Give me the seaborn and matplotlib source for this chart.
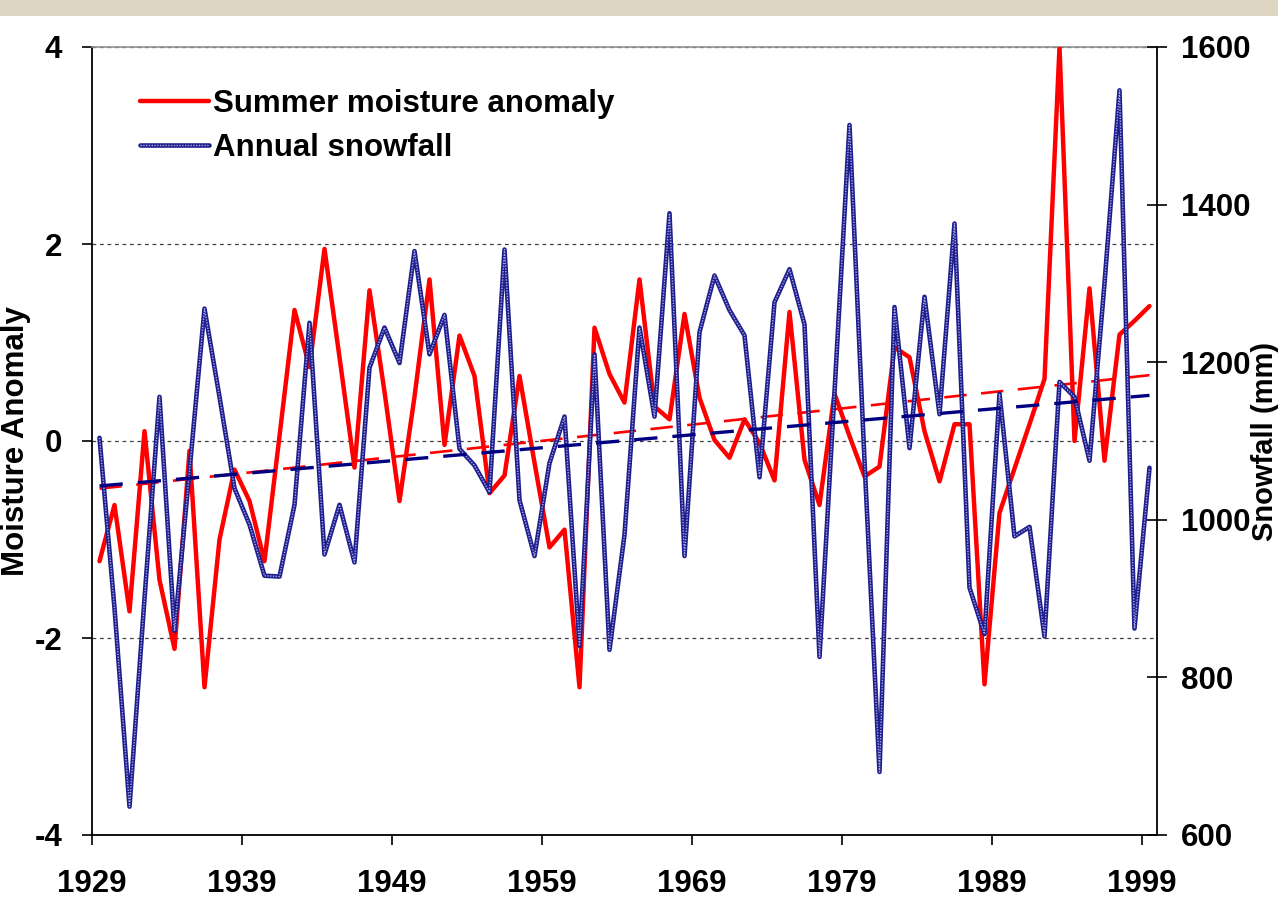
import numpy as np
import pandas as pd
import matplotlib
matplotlib.use("Agg")
import matplotlib.pyplot as plt
import seaborn as sns
from matplotlib.patches import Rectangle

# ---------------- data ----------------
years = list(range(1929, 2000))
moisture = [
    -1.22, -0.65, -1.73, 0.10, -1.41, -2.11, -0.10, -2.50, -1.00, -0.29,
    -0.61, -1.22, 0.05, 1.33, 0.75, 1.95, 0.85, -0.27, 1.53, 0.50,
    -0.61, 0.45, 1.64, -0.04, 1.07, 0.66, -0.53, -0.35, 0.66, -0.22,
    -1.08, -0.90, -2.50, 1.15, 0.68, 0.39, 1.64, 0.35, 0.22, 1.29,
    0.44, 0.01, -0.17, 0.22, -0.02, -0.40, 1.31, -0.19, -0.65, 0.48,
    0.05, -0.36, -0.26, 0.95, 0.85, 0.10, -0.41, 0.17, 0.17, -2.47,
    -0.73, -0.28, 0.17, 0.63, 4.00, 0.00, 1.55, -0.20, 1.08, 1.22,
    1.37,
]
snowfall = [
    1104, 888, 636, 900, 1156, 859, 1062, 1268, 1156, 1040,
    994, 929, 928, 1019, 1250, 956, 1019, 946, 1193, 1244,
    1199, 1341, 1210, 1260, 1090, 1069, 1035, 1343, 1025, 954,
    1072, 1131, 840, 1210, 835, 981, 1244, 1131, 1389, 954,
    1238, 1310, 1266, 1234, 1054, 1276, 1318, 1248, 826, 1162,
    1501, 1075, 680, 1270, 1091, 1283, 1134, 1376, 914, 855,
    1160, 979, 991, 852, 1175, 1156, 1075, 1300, 1545, 862,
    1066,
]
x_tick_labels = ["1929", "1939", "1949", "1959", "1969", "1979", "1989", "1999"]
left_ticks = [-4, -2, 0, 2, 4]
right_ticks = [600, 800, 1000, 1200, 1400, 1600]
series_labels = ["Summer moisture anomaly", "Annual snowfall"]
left_label = "Moisture Anomaly"
right_label = "Snowfall (mm)"

df = pd.DataFrame({"year": years, "moisture": moisture, "snowfall": snowfall})

# ---------------- style ----------------
sns.set_theme(style="white")
plt.rcParams["font.family"] = ["Liberation Sans", "DejaVu Sans"]
plt.rcParams["font.weight"] = "bold"
plt.rcParams["text.color"] = "black"
plt.rcParams["axes.labelcolor"] = "black"
FS = 22.5

W, H = 1278, 900
fig = plt.figure(figsize=(W / 100, H / 100), dpi=100)
fig.patch.set_facecolor("white")
fig.patches.append(Rectangle((0, 1 - 16 / H), 1, 16 / H, transform=fig.transFigure,
                             facecolor="#DED6C3", edgecolor="none", zorder=0))

ax = fig.add_axes([92 / W, 65 / H, 1065 / W, 788 / H])
ax.set_facecolor("white")

RED = "#FF0000"
NAVY = "#000080"

# moisture (left axis)
sns.lineplot(data=df, x="year", y="moisture", ax=ax, color=RED, lw=3.2,
             legend=False, zorder=3)
red_line = ax.lines[-1]
sns.regplot(data=df, x="year", y="moisture", ax=ax, scatter=False, ci=None,
            truncate=True,
            line_kws=dict(color=RED, lw=1.9, ls=(0, (8.5, 5.5)), zorder=4))

ax.set_ylim(-4, 4)
ax.set_yticks(left_ticks)
ax.set_yticklabels([str(t) for t in left_ticks])
ax.set_xlim(1928.5, 1999.5)
ax.set_xticks([int(t) - 0.5 for t in x_tick_labels])
ax.set_xticklabels(x_tick_labels)
ax.yaxis.grid(True, color="#404040", lw=0.9, ls=(0, (3, 3)))
ax.xaxis.grid(False)
ax.set_xlabel("")
ax.set_ylabel(left_label, fontsize=FS, fontweight="bold", color="black")
ax.yaxis.set_label_coords(-0.057, 0.5)

for s in ["left", "bottom"]:
    ax.spines[s].set_color("black")
    ax.spines[s].set_linewidth(1.3)
ax.spines["top"].set_color("#909090")
ax.spines["top"].set_linewidth(1.2)
ax.spines["right"].set_visible(False)

ax.tick_params(axis="y", direction="out", length=7.5, width=1.2, pad=14,
               labelsize=FS, colors="black", left=True)
ax.tick_params(axis="x", direction="out", length=7.5, width=1.2, pad=17,
               labelsize=FS, colors="black", bottom=True)

# snowfall (right axis)
ax2 = ax.twinx()
sns.lineplot(data=df, x="year", y="snowfall", ax=ax2, color="#1E1E8C", lw=3.3,
             legend=False, zorder=3)
blue_outer = ax2.lines[-1]
sns.lineplot(data=df, x="year", y="snowfall", ax=ax2, color="#A8A8E6", lw=1.0,
             legend=False, zorder=3.5)
blue_inner = ax2.lines[-1]
blue_inner.set_linestyle((0, (1, 1)))
sns.regplot(data=df, x="year", y="snowfall", ax=ax2, scatter=False, ci=None,
            truncate=True,
            line_kws=dict(color=NAVY, lw=2.4, ls=(0, (7, 4.5)), zorder=4))

ax2.set_ylim(600, 1600)
ax2.set_yticks(right_ticks)
ax2.set_yticklabels([str(t) for t in right_ticks])
ax2.set_xlabel("")
ax2.set_ylabel(right_label, fontsize=21, fontweight="bold", color="black")
ax2.yaxis.set_label_coords(1.0885, 0.5)
ax2.grid(False)
for s in ["left", "bottom", "top"]:
    ax2.spines[s].set_visible(False)
ax2.spines["right"].set_visible(True)
ax2.spines["right"].set_color("black")
ax2.spines["right"].set_linewidth(1.3)
ax2.tick_params(axis="y", direction="inout", length=14, width=1.2, pad=10,
                labelsize=FS, colors="black", right=True)

leg = ax2.legend(handles=[red_line, (blue_outer, blue_inner)], labels=series_labels,
                 loc="upper left", bbox_to_anchor=(0.045, 0.947), frameon=False,
                 handlelength=2.2, handletextpad=0.15, labelspacing=0.45,
                 borderaxespad=0, borderpad=0,
                 prop={"weight": "bold", "size": FS})
for t in leg.get_texts():
    t.set_color("black")

fig.savefig("out.png", dpi=100)
